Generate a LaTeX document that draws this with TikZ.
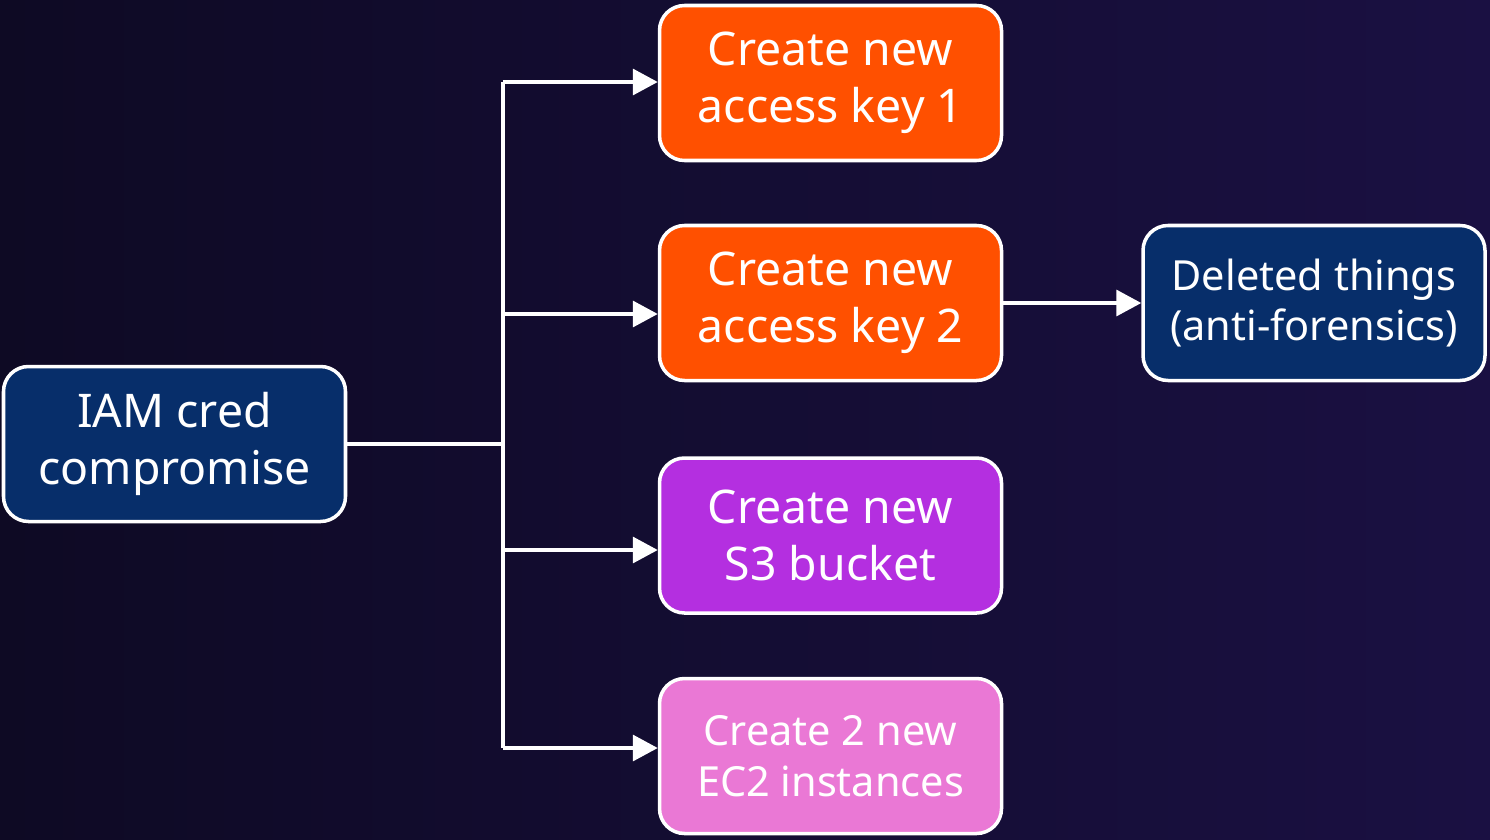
\documentclass[tikz,border=0pt]{standalone}
\usepackage{fontspec}
\setmainfont{Noto Sans}
\usetikzlibrary{positioning,arrows.meta,calc}

\definecolor{bgleft}{HTML}{0E0A24}
\definecolor{bgright}{HTML}{1A1042}
\definecolor{navy}{HTML}{072E6A}
\definecolor{awsorange}{HTML}{FF5000}
\definecolor{violet}{HTML}{B42FE0}
\definecolor{orchid}{HTML}{EA78D5}

\begin{document}
\begin{tikzpicture}

\tikzstyle{every node}=[rounded corners=0.25cm, draw=white, line width=1pt,
                        text=white, align=center,
                        minimum width=3.42cm, minimum height=1.55cm]
\tikzstyle{big}=[font=\fontsize{13.2}{16.3}\selectfont]
\tikzstyle{small}=[font=\fontsize{11.8}{14.4}\selectfont]
\tikzstyle{link}=[draw=white, line width=1pt]
\tikzstyle{arrow}=[link, -{Triangle[length=0.25cm,width=0.26cm]}]

% background
\shade[left color=bgleft, right color=bgright] (0,0) rectangle (14.9,8.39);
\useasboundingbox (0,0) rectangle (14.9,8.39);

\node[big, fill=navy] (iam) at (1.745, 3.95){IAM cred\\compromise};
\node[big, fill=awsorange] (key1) at (8.305, 7.56){Create new\\access key 1};
\node[big, fill=awsorange] (key2) at (8.305, 5.36){Create new\\access key 2};
\node[big, fill=violet] (s3) at (8.305, 3.035){Create new\\S3 bucket};
\node[small, fill=orchid] (ec2) at (8.305, 0.83){Create 2 new\\EC2 instances};
\node[small, fill=navy] (del) at (13.14, 5.36){Deleted things\\(anti-forensics)};

% trunk
\coordinate (j) at (5.03, 3.95);
\coordinate (b1) at (5.03, 7.57);
\coordinate (b2) at (5.03, 5.25);
\coordinate (b3) at (5.03, 2.89);
\coordinate (b4) at (5.03, 0.91);
\draw[link] (iam.east) -- (j);
\draw[link] (b4) -- (b1);
\foreach \b/\t in {b1/key1,b2/key2,b3/s3,b4/ec2}{\draw[arrow] (\b) -- (\b -| \t.west);}
\draw[arrow] (key2.east) -- (del.west);

\end{tikzpicture}
\end{document}
